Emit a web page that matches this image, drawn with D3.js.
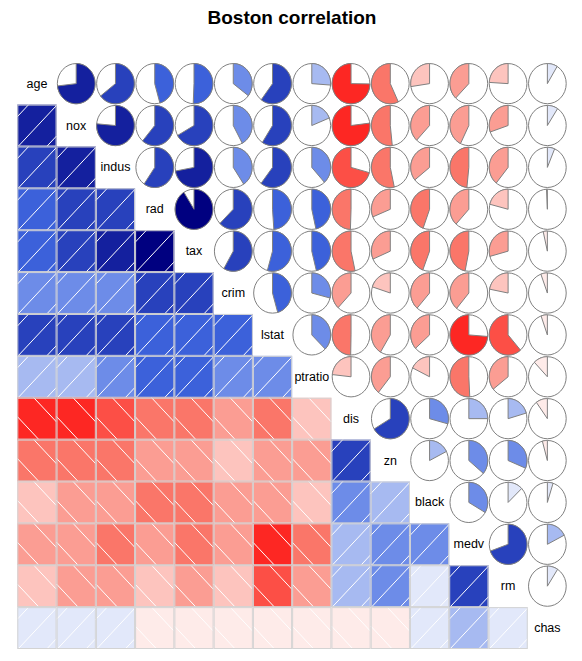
<!DOCTYPE html>
<html>
<head>
<meta charset="utf-8">
<script src="https://cdn.jsdelivr.net/npm/d3@7"></script>
<style>
  html, body { margin: 0; padding: 0; background: #fff; }
  svg { display: block; font-family: "Liberation Sans", Arial, Helvetica, sans-serif; }
</style>
</head>
<body>
<svg id="chart" width="582" height="661"></svg>
<script>
// ---- Data ----
const title = "Boston correlation";
const variables = ["age", "nox", "indus", "rad", "tax", "crim", "lstat", "ptratio", "dis", "zn", "black", "medv", "rm", "chas"];
// Lower-triangle correlations: row i lists cor(variables[i], variables[j]) for j < i
const corrNox     = [0.7315];
const corrIndus   = [0.6448, 0.7637];
const corrRad     = [0.4560, 0.6114, 0.5951];
const corrTax     = [0.5065, 0.6680, 0.7208, 0.9102];
const corrCrim    = [0.3527, 0.4210, 0.4066, 0.6255, 0.5828];
const corrLstat   = [0.6023, 0.5909, 0.6038, 0.4887, 0.5440, 0.4556];
const corrPtratio = [0.2615, 0.1889, 0.3832, 0.4647, 0.4609, 0.2899, 0.3740];
const corrDis     = [-0.7479, -0.7692, -0.7080, -0.4946, -0.5344, -0.3797, -0.4970, -0.2325];
const corrZn      = [-0.5695, -0.5166, -0.5338, -0.3119, -0.3146, -0.2005, -0.4130, -0.3917, 0.6644];
const corrBlack   = [-0.2735, -0.3801, -0.3570, -0.4444, -0.4418, -0.3851, -0.3661, -0.1774, 0.2915, 0.1755];
const corrMedv    = [-0.3770, -0.4273, -0.4837, -0.3816, -0.4685, -0.3883, -0.7377, -0.5078, 0.2499, 0.3604, 0.3335];
const corrRm      = [-0.2403, -0.3022, -0.3917, -0.2098, -0.2920, -0.2192, -0.6138, -0.3555, 0.2052, 0.3120, 0.1281, 0.6954];
const corrChas    = [0.0865, 0.0912, 0.0629, -0.0074, -0.0356, -0.0559, -0.0539, -0.1215, -0.0992, -0.0427, 0.0488, 0.1753, 0.0913];
const lowerRows = [[], corrNox, corrIndus, corrRad, corrTax, corrCrim, corrLstat, corrPtratio,
                   corrDis, corrZn, corrBlack, corrMedv, corrRm, corrChas];
const paletteAnchors = ["red", "salmon", "white", "royalblue", "navy"];

// ---- Build matrix ----
const n = variables.length;
function corrAt(i, j) { return i > j ? lowerRows[i][j] : lowerRows[j][i]; }

const svg = d3.select("#chart");
const W = 582, H = 661;
const x = d3.scaleBand().domain(d3.range(n)).range([17.3, 567]).padding(0);
const y = d3.scaleBand().domain(d3.range(n)).range([62.7, 649]).padding(0);
const cw = x.bandwidth(), ch = y.bandwidth();

const interp = d3.piecewise(d3.interpolateRgb, paletteAnchors);
const palette = d3.range(14).map(i => interp(i / 13));
const color = d3.scaleQuantize().domain([-1, 1]).range(palette);

// Title
svg.append("text")
  .attr("x", 292).attr("y", 23.5)
  .attr("text-anchor", "middle")
  .attr("font-size", 19).attr("font-weight", "bold")
  .attr("fill", "#000")
  .text(title);

// Lower panel: shading
const shadeCells = [];
for (let i = 1; i < n; i++) for (let j = 0; j < i; j++) shadeCells.push({i, j, r: corrAt(i, j)});

const posOffsets = [0.71, -0.02, -0.75];   // v = u + c
const negOffsets = [0.55, 1.42];           // u + v = c

function clipLine(c, pos) {
  // returns endpoints in normalized coords (u right, v up) inside unit square
  const pts = [];
  if (pos) {
    // v = u + c
    const cand = [[0, c], [1, 1 + c], [-c, 0], [1 - c, 1]];
    cand.forEach(p => { if (p[0] >= -1e-9 && p[0] <= 1 + 1e-9 && p[1] >= -1e-9 && p[1] <= 1 + 1e-9) pts.push(p); });
  } else {
    // v = c - u
    const cand = [[0, c], [1, c - 1], [c, 0], [c - 1, 1]];
    cand.forEach(p => { if (p[0] >= -1e-9 && p[0] <= 1 + 1e-9 && p[1] >= -1e-9 && p[1] <= 1 + 1e-9) pts.push(p); });
  }
  if (pts.length < 2) return null;
  pts.sort((a, b) => a[0] - b[0]);
  return [pts[0], pts[pts.length - 1]];
}

const shadeG = svg.append("g");
const cells = shadeG.selectAll("g.cell").data(shadeCells).join("g")
  .attr("class", "cell")
  .attr("transform", d => `translate(${x(d.j)},${y(d.i)})`);

cells.append("rect")
  .attr("x", 0).attr("y", 0).attr("width", cw).attr("height", ch)
  .attr("fill", d => color(d.r));

cells.each(function(d) {
  const g = d3.select(this);
  const pos = d.r > 0;
  const offs = pos ? posOffsets : negOffsets;
  offs.forEach(c => {
    const seg = clipLine(c, pos);
    if (!seg) return;
    g.append("line")
      .attr("x1", seg[0][0] * cw).attr("y1", (1 - seg[0][1]) * ch)
      .attr("x2", seg[1][0] * cw).attr("y2", (1 - seg[1][1]) * ch)
      .attr("stroke", "#fff").attr("stroke-width", 1);
  });
});

cells.append("rect")
  .attr("x", 0.5).attr("y", 0.5).attr("width", cw - 1).attr("height", ch - 1)
  .attr("fill", "none").attr("stroke", "#d3d3d3").attr("stroke-width", 1);

// Diagonal labels
svg.append("g").selectAll("text").data(variables).join("text")
  .attr("x", (d, i) => x(i) + cw / 2)
  .attr("y", (d, i) => y(i) + ch / 2)
  .attr("text-anchor", "middle")
  .attr("dominant-baseline", "central")
  .attr("font-size", 12.5)
  .attr("fill", "#000")
  .text(d => d);

// Upper panel: pies
const pieCells = [];
for (let i = 0; i < n; i++) for (let j = i + 1; j < n; j++) pieCells.push({i, j, r: corrAt(i, j)});

const rx = cw * 0.48, ry = ch * 0.48;
const lineGen = d3.line();

const pies = svg.append("g").selectAll("g.pie").data(pieCells).join("g")
  .attr("class", "pie")
  .attr("transform", d => `translate(${x(d.j) + cw / 2},${y(d.i) + ch / 2})`);

pies.append("ellipse")
  .attr("cx", 0).attr("cy", 0).attr("rx", rx).attr("ry", ry)
  .attr("fill", "#fff").attr("stroke", "#808080").attr("stroke-width", 1);

pies.append("path")
  .attr("d", d => {
    const segs = Math.max(2, Math.round(120 * Math.abs(d.r)));
    const a0 = Math.PI / 2, a1 = Math.PI / 2 - 2 * Math.PI * d.r;
    const pts = d3.range(segs + 1).map(k => {
      const a = a0 + (a1 - a0) * k / segs;
      return [rx * Math.cos(a), -ry * Math.sin(a)];
    });
    pts.push([0, 0]);
    return lineGen(pts) + "Z";
  })
  .attr("fill", d => color(d.r))
  .attr("stroke", "#808080").attr("stroke-width", 1)
  .attr("stroke-linejoin", "round");
</script>
</body>
</html>
